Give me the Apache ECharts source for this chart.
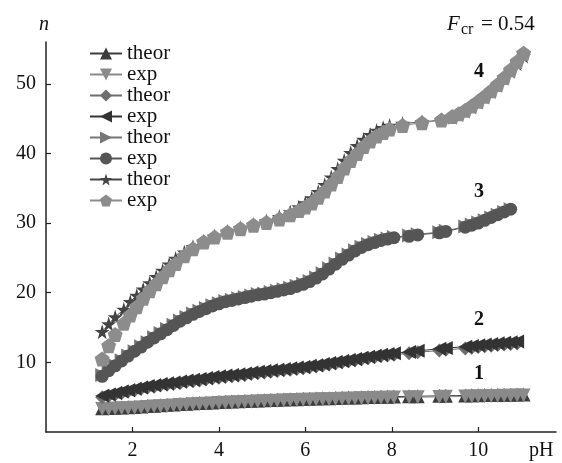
<!DOCTYPE html>
<html>
<head>
<meta charset="utf-8">
<script src="https://cdn.jsdelivr.net/npm/echarts@6/dist/echarts.min.js"></script>
<style>
html,body{margin:0;padding:0;background:#fff;}
#c{width:562px;height:463px;}
</style>
</head>
<body>
<div id="c"></div>
<script>
// pH grid shared by curves 1-3
const pHa = [1.3,1.45,1.6,1.75,1.9,2.05,2.2,2.35,2.5,2.65,2.8,2.95,3.1,3.25,3.4,3.55,3.7,3.85,4.0,4.15,4.3,4.45,4.6,4.75,4.9,5.05,5.2,5.35,5.5,5.65,5.8,5.95,6.1,6.25,6.4,6.55,6.7,6.85,7.0,7.15,7.3,7.45,7.6,7.75,7.9,8.05,8.4,8.6,9.1,9.25,9.7,9.85,10.0,10.15,10.3,10.45,10.6,10.75,10.9,11.05];
// pH grid of curve 4
const pH4 = [1.3,1.45,1.6,1.8,1.95,2.1,2.25,2.4,2.55,2.7,2.85,3.0,3.2,3.4,3.65,3.9,4.2,4.5,4.8,5.1,5.4,5.65,5.85,6.0,6.15,6.3,6.45,6.6,6.75,6.9,7.05,7.2,7.35,7.5,7.65,7.8,7.95,8.25,8.7,9.15,9.4,9.55,9.7,9.85,10.0,10.15,10.3,10.45,10.6,10.75,10.9,11.05];

const n1Theor = [3.40,3.44,3.48,3.52,3.56,3.60,3.66,3.72,3.78,3.84, 3.90,3.96,4.02,4.07,4.12,4.16,4.20,4.25,4.30,4.34, 4.38,4.41,4.44,4.48,4.52,4.56,4.60,4.63,4.66,4.69, 4.72,4.76,4.79,4.81,4.83,4.86,4.88,4.91,4.94,4.96, 4.99,5.01,5.03,5.05,5.07,5.09,5.12,5.14,5.19,5.20, 5.24,5.26,5.28,5.30,5.31,5.33,5.34,5.36,5.37,5.39];
const n1Exp   = [3.30,3.31,3.36,3.40,3.42,3.47,3.52,3.58,3.65,3.70, 3.75,3.82,3.88,3.92,3.98,4.02,4.06,4.10,4.16,4.20, 4.23,4.27,4.30,4.33,4.38,4.41,4.45,4.49,4.52,4.55, 4.58,4.62,4.64,4.67,4.69,4.71,4.74,4.77,4.79,4.82, 4.84,4.86,4.89,4.91,4.93,4.94,4.98,5.00,5.04,5.06, 5.10,5.11,5.14,5.15,5.17,5.18,5.20,5.21,5.23,5.25];
const n2Theor = [5.0,5.2,5.4,5.6,5.8,6.0,6.2,6.4,6.5,6.7, 6.8,6.9,7.05,7.2,7.3,7.4,7.55,7.7,7.8,7.9, 8.0,8.1,8.2,8.35,8.45,8.55,8.65,8.75,8.85,8.95, 9.05,9.15,9.3,9.4,9.55,9.7,9.85,10.0,10.15,10.3, 10.45,10.6,10.75,10.9,11.0,11.1,11.3,11.45,11.7,11.8, 12.0,12.1,12.2,12.3,12.4,12.5,12.55,12.65,12.7,null];
const n2Exp   = [5.2,5.4,5.6,5.8,6.0,6.2,6.4,6.6,6.7,6.9, 7.0,7.1,7.25,7.4,7.5,7.6,7.75,7.9,8.0,8.1, 8.2,8.3,8.4,8.55,8.65,8.75,8.85,8.95,9.05,9.15, 9.25,9.35,9.5,9.6,9.75,9.9,10.05,10.2,10.35,10.5, 10.65,10.8,10.95,11.1,11.2,11.3,11.5,11.65,11.95,12.05, 12.25,12.35,12.45,12.55,12.65,12.75,12.8,12.9,13.0,null];
const n3Theor = [8.2,8.9,9.6,10.3,11.0,11.6,12.3,12.9,13.6,14.2, 14.8,15.4,16.0,16.5,17.0,17.4,17.8,18.2,18.5,18.8, 19.0,19.2,19.4,19.6,19.8,19.9,20.1,20.3,20.5,20.7, 21.0,21.3,21.7,22.2,22.8,23.5,24.2,24.9,25.5,26.1, 26.6,27.0,27.3,27.6,27.8,28.0,28.2,28.4,28.7,28.9, 29.5,29.8,30.1,30.4,30.8,31.2,31.6,32.0,null,null];
const n3Exp   = [8.0,8.8,9.5,10.2,10.9,11.6,12.2,12.9,13.5,14.1, 14.7,15.3,15.9,16.4,16.9,17.3,17.7,18.1,18.4,18.7, 18.9,19.1,19.3,19.5,19.7,19.8,20.0,20.2,20.4,20.6, 20.9,21.2,21.6,22.1,22.7,23.4,24.1,24.8,25.4,26.0, 26.5,26.9,27.2,27.5,27.7,27.9,28.1,28.3,28.6,28.8, 29.4,29.7,30.0,30.4,30.8,31.2,31.6,32.0,null,null];
const n4Theor = [14.4,15.5,16.5,17.6,18.7,19.6,20.5,21.4,22.3,23.2, 24.1,24.9,25.8,26.6,27.4,28.1,28.8,29.3,29.8,30.3, 30.9,31.6,32.3,32.9,33.6,34.5,35.5,36.6,37.8,39.0, 40.1,41.1,42.0,42.7,43.3,43.7,44.0,44.3,44.5,44.8, 45.2,45.6,46.1,46.7,47.4,48.1,48.9,49.8,50.8,51.8, 52.9,54.0];
const n4Exp   = [10.5,12.4,14.0,15.6,16.8,18.0,19.2,20.3,21.3,22.3, 23.3,24.2,25.3,26.3,27.3,28.0,28.7,29.2,29.7,30.1, 30.6,31.2,31.8,32.3,32.9,33.7,34.6,35.6,36.7,37.9, 39.0,40.0,41.0,41.8,42.5,43.0,43.5,44.0,44.4,44.8, 45.3,45.7,46.2,46.8,47.5,48.2,49.0,49.9,50.9,52.0, 53.2,54.4];

const xTicks = [2,4,6,8,10];
const yTicks = [10,20,30,40,50];
const curveLabels = ['1','2','3','4'];

function pairs(xs, ys){
  const out = [];
  xs.forEach((x,i)=>{ if(ys[i]!=null) out.push([x, ys[i]]); });
  return out;
}

const STAR = 'path://M50,0 L61,35 L98,35 L68,57 L79,91 L50,70 L21,91 L32,57 L2,35 L39,35 Z';
const PENT = 'path://M50,0 L98,36 L80,95 L20,95 L2,36 Z';

const seriesDefs = [
  {name:'theor1', x:pHa, y:n1Theor, symbol:'triangle', rot:0, size:14, color:'#3c3c3c'},
  {name:'exp1',   x:pHa, y:n1Exp,   symbol:'triangle', rot:180, size:14, color:'#8a8a8a'},
  {name:'theor2', x:pHa, y:n2Theor, symbol:'diamond', rot:0, size:14, color:'#6e6e6e'},
  {name:'exp2',   x:pHa, y:n2Exp,   symbol:'triangle', rot:90, size:14, color:'#333333'},
  {name:'theor3', x:pHa, y:n3Theor, symbol:'triangle', rot:-90, size:14, color:'#777777'},
  {name:'exp3',   x:pHa, y:n3Exp,   symbol:'circle', rot:0, size:13, color:'#555555'},
  {name:'theor4', x:pH4, y:n4Theor, symbol:STAR, rot:0, size:15, color:'#444444'},
  {name:'exp4',   x:pH4, y:n4Exp,   symbol:PENT, rot:0, size:15, color:'#8c8c8c'}
];

const FONT = 'Liberation Serif';
const chart = echarts.init(document.getElementById('c'), null, {renderer:'canvas'});

const option = {
  animation:false,
  backgroundColor:'#fff',
  grid:{left:46, right:6, top:42, bottom:31, containLabel:false, outerBoundsMode:'none'},
  xAxis:{
    type:'value', min:0, max:11.8,
    axisLine:{show:true, onZero:false, lineStyle:{color:'#222', width:1.5}},
    axisTick:{show:true, inside:true, length:5, customValues:xTicks, lineStyle:{color:'#222', width:1.2}},
    axisLabel:{customValues:xTicks, fontFamily:FONT, fontSize:20, color:'#111', margin:9},
    splitLine:{show:false}
  },
  yAxis:{
    type:'value', min:0, max:56,
    axisLine:{show:true, onZero:false, lineStyle:{color:'#222', width:1.5}},
    axisTick:{show:true, inside:true, length:5, customValues:yTicks, lineStyle:{color:'#222', width:1.2}},
    axisLabel:{customValues:yTicks, fontFamily:FONT, fontSize:20, color:'#111', margin:10},
    splitLine:{show:false}
  },
  legend:{
    orient:'vertical', left:89, top:43, padding:0,
    itemWidth:32, itemHeight:15, itemGap:0,
    formatter:(n)=>n.replace(/\d/g,''),
    textStyle:{fontFamily:FONT, fontSize:21, color:'#111', lineHeight:21},
    lineStyle:{width:2},
    data: seriesDefs.map(s=>s.name)
  },
  series: seriesDefs.map(s=>({
    name:s.name, type:'line',
    data:pairs(s.x, s.y),
    symbol:s.symbol, symbolRotate:s.rot, symbolSize:s.size,
    showAllSymbol:true,
    itemStyle:{color:s.color},
    lineStyle:{color:s.color, width:1},
    emphasis:{disabled:true}
  })),
  graphic:[
    {type:'text', left:39, top:15, style:{text:'n', font:'italic 20px "Liberation Serif"', fill:'#111'}},
    {type:'text', left:529, top:441, style:{text:'pH', font:'20px "Liberation Serif"', fill:'#111'}},
    {type:'text', left:447, top:14, style:{text:'F', font:'italic 21px "Liberation Serif"', fill:'#111'}},
    {type:'text', left:461, top:22, style:{text:'cr', font:'16px "Liberation Serif"', fill:'#111'}},
    {type:'text', left:481, top:14, style:{text:'= 0.54', font:'21px "Liberation Serif"', fill:'#111'}},
    {type:'text', left:474, top:62, style:{text:curveLabels[3], font:'bold 20px "Liberation Serif"', fill:'#111'}},
    {type:'text', left:474, top:182, style:{text:curveLabels[2], font:'bold 20px "Liberation Serif"', fill:'#111'}},
    {type:'text', left:474, top:310, style:{text:curveLabels[1], font:'bold 20px "Liberation Serif"', fill:'#111'}},
    {type:'text', left:474, top:364, style:{text:curveLabels[0], font:'bold 20px "Liberation Serif"', fill:'#111'}}
  ]
};
chart.setOption(option);
</script>
</body>
</html>
